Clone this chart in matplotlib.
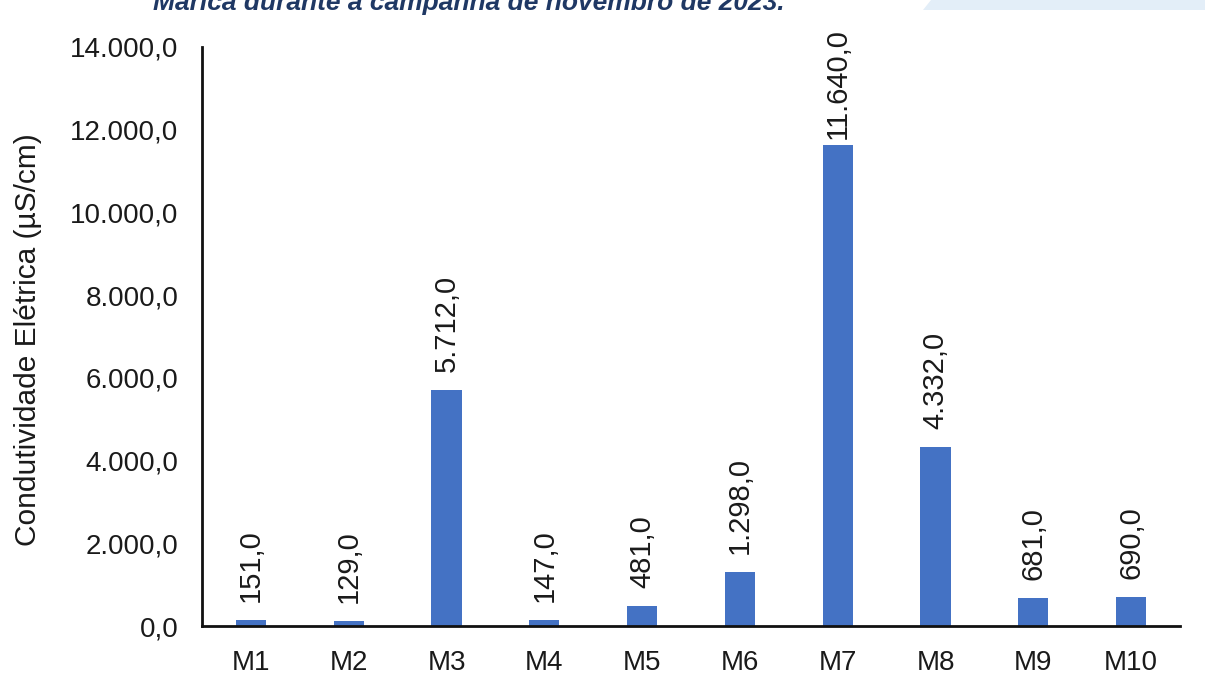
import matplotlib
matplotlib.use("Agg")
import matplotlib.pyplot as plt
from matplotlib.patches import Polygon
from matplotlib.ticker import FuncFormatter

plt.rcParams['font.family'] = ['Liberation Sans', 'DejaVu Sans']

# Pontos de coleta e condutividade elétrica (µS/cm)
pontos = ["M1", "M2", "M3", "M4", "M5", "M6", "M7", "M8", "M9", "M10"]
condutividade = [151.0, 129.0, 5712.0, 147.0, 481.0, 1298.0, 11640.0, 4332.0, 681.0, 690.0]
yticks = [0, 2000, 4000, 6000, 8000, 10000, 12000, 14000]


def br_format(v, decimals=1):
    s = f"{v:,.{decimals}f}"
    return s.replace(",", "X").replace(".", ",").replace("X", ".")


W, H = 1205, 690
fig = plt.figure(figsize=(W / 100, H / 100), dpi=100)
ax = fig.add_axes([202 / W, 1 - 626 / H, (1180 - 202) / W, (626 - 47) / H])

x = range(len(pontos))
ax.bar(x, condutividade, width=0.31, color="#4472C4")

vmax = max(condutividade)
for i, v in enumerate(condutividade):
    # o rótulo da maior barra fica mais perto dela para não sair da figura
    off = 4 if v == vmax else 13
    ax.annotate(br_format(v), (i, v), xytext=(0, off), textcoords="offset points",
                rotation=90, ha="center", va="bottom", fontsize=21, color="#1a1a1a")

ax.set_xlim(-0.5, len(pontos) - 0.5)
ax.set_ylim(0, 14000)
ax.set_yticks(yticks)
ax.yaxis.set_major_formatter(FuncFormatter(lambda v, p: br_format(v)))
ax.set_xticks(list(x))
ax.set_xticklabels(pontos)
ax.tick_params(axis="both", length=0, labelsize=20, colors="#1a1a1a")
ax.tick_params(axis="y", pad=17)
ax.tick_params(axis="x", pad=17)

for side in ["top", "right"]:
    ax.spines[side].set_visible(False)
for side in ["left", "bottom"]:
    ax.spines[side].set_linewidth(2)
    ax.spines[side].set_color("#111111")

fig.text(28 / W, 1 - 340 / H, "Condutividade Elétrica (µS/cm)", rotation=90,
         ha="center", va="center", fontsize=21.5, color="#1a1a1a")

# faixa azul clara no canto superior direito
fig.patches.append(Polygon([[923 / W, 1 - 10 / H], [931 / W, 1.0], [1.0, 1.0], [1.0, 1 - 10 / H]],
                           closed=True, transform=fig.transFigure, facecolor="#E3EEF8",
                           edgecolor="none"))

# título cortado no topo
fig.text(469 / W, 1 - 10 / H, "Maricá durante a campanha de novembro de 2023.",
         ha="center", va="baseline", fontsize=19, fontweight="bold", fontstyle="italic",
         color="#1F3864")

fig.savefig("out.png", dpi=100)
